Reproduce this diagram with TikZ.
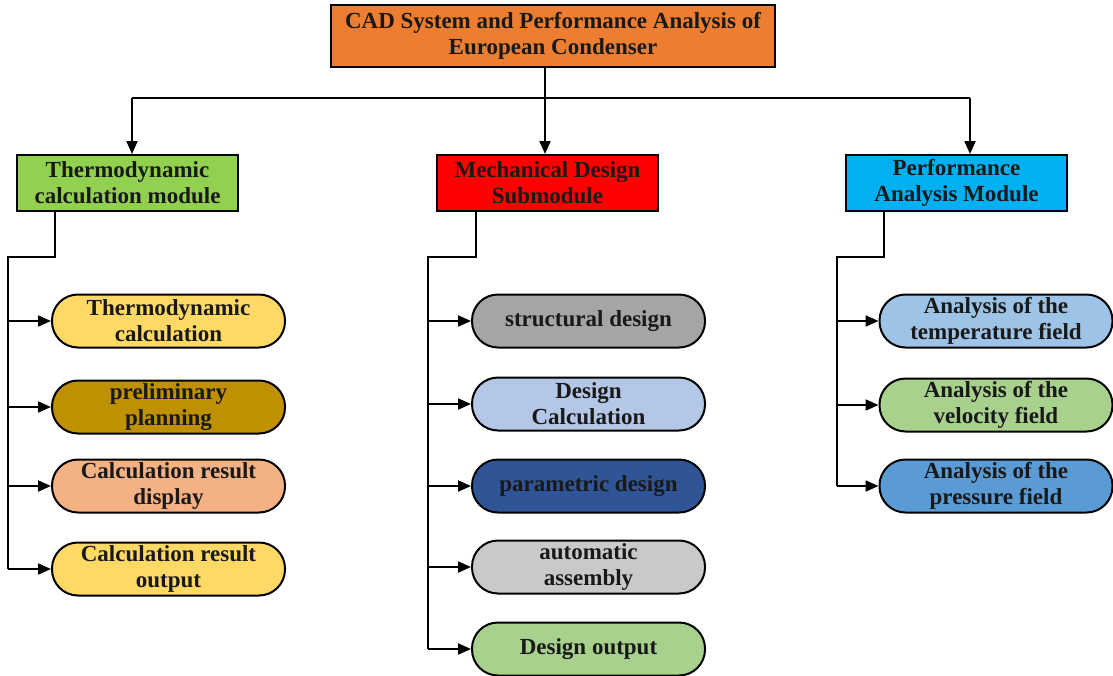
\documentclass[tikz,border=0pt]{standalone}
\usepackage{fontspec}
\setmainfont{Liberation Serif}
\usetikzlibrary{arrows.meta,positioning}

\definecolor{rootfill}{HTML}{ED7D31}
\definecolor{thermofill}{HTML}{92D050}
\definecolor{mechfill}{HTML}{FF0000}
\definecolor{perffill}{HTML}{00B0F0}
\definecolor{goldlight}{HTML}{FFD966}
\definecolor{golddark}{HTML}{BF9000}
\definecolor{peach}{HTML}{F4B183}
\definecolor{greymid}{HTML}{A5A5A5}
\definecolor{bluelight}{HTML}{B4C7E7}
\definecolor{bluedark}{HTML}{2F5597}
\definecolor{greylight}{HTML}{C9C9C9}
\definecolor{greenlight}{HTML}{A9D18E}
\definecolor{skylight}{HTML}{9DC3E6}
\definecolor{bluemid}{HTML}{5B9BD5}

\begin{document}
\begin{tikzpicture}[x=1pt, y=-1pt,
    txt/.style={font=\fontsize{23}{26}\selectfont\bfseries, align=center, text=black!90},
    box/.style={txt, draw, line width=2pt, minimum width=221pt, minimum height=56pt, inner sep=1pt},
    pill/.style={txt, draw, line width=2pt, rounded corners=26pt, minimum width=233pt, minimum height=53pt, inner sep=1pt},
    link/.style={line width=2pt},
    arr/.style={link, -{Triangle[length=13pt, width=11pt]}}
]
    \useasboundingbox (0,0) rectangle (1113,675);

    % Root
    \node[box, fill=rootfill, minimum width=444pt, minimum height=62pt] (root) at (553, 36)
        {CAD System and Performance Analysis of\\European Condenser};

    % Modules
    \node[box, fill=thermofill] (thermo) at (127.5, 183) {Thermodynamic\\calculation module};
    \node[box, fill=mechfill] (mech) at (547.5, 183) {Mechanical Design\\Submodule};
    \node[box, fill=perffill] (perf) at (956.5, 183) {Performance\\Analysis Module};

    % Root to modules
    \coordinate (hub) at (545, 98);
    \coordinate (hubL) at (132, 98);
    \coordinate (hubR) at (970, 98);
    \draw[link] (root.south -| hub) -- (hub);
    \draw[link] (hubL) -- (hubR);
    \draw[arr] (hubL) -- (hubL |- thermo.north);
    \draw[arr] (hub) -- (hub |- mech.north);
    \draw[arr] (hubR) -- (hubR |- perf.north);

    % Thermodynamic items
    \node[pill, fill=goldlight] (t1) at (168.5, 321) {Thermodynamic\\calculation};
    \node[pill, fill=golddark] (t2) at (168.5, 407) {preliminary\\planning};
    \node[pill, fill=peach] (t3) at (168.5, 486) {Calculation result\\display};
    \node[pill, fill=goldlight] (t4) at (168.5, 569) {Calculation result\\output};

    \coordinate (tdrop) at (55, 257);
    \coordinate (tbus) at (8, 257);
    \draw[link] (thermo.south -| tdrop) -- (tdrop) -- (tbus) -- (tbus |- t4);
    \foreach \n in {t1,t2,t3,t4}
        \draw[arr] (tbus |- \n) -- (\n.west);

    % Mechanical items
    \node[pill, fill=greymid] (m1) at (588.5, 321) {structural design};
    \node[pill, fill=bluelight] (m2) at (588.5, 404) {Design\\Calculation};
    \node[pill, fill=bluedark] (m3) at (588.5, 486) {parametric design};
    \node[pill, fill=greylight] (m4) at (588.5, 567) {automatic\\assembly};
    \node[pill, fill=greenlight] (m5) at (588.5, 649) {Design output};

    \coordinate (mdrop) at (476, 257);
    \coordinate (mbus) at (428, 257);
    \draw[link] (mech.south -| mdrop) -- (mdrop) -- (mbus) -- (mbus |- m5);
    \foreach \n in {m1,m2,m3,m4,m5}
        \draw[arr] (mbus |- \n) -- (\n.west);

    % Performance items
    \node[pill, fill=skylight] (p1) at (996, 321) {Analysis of the\\temperature field};
    \node[pill, fill=greenlight] (p2) at (996, 405) {Analysis of the\\velocity field};
    \node[pill, fill=bluemid] (p3) at (996, 486) {Analysis of the\\pressure field};

    \coordinate (pdrop) at (884, 257);
    \coordinate (pbus) at (837, 257);
    \draw[link] (perf.south -| pdrop) -- (pdrop) -- (pbus) -- (pbus |- p3);
    \foreach \n in {p1,p2,p3}
        \draw[arr] (pbus |- \n) -- (\n.west);
\end{tikzpicture}
\end{document}
